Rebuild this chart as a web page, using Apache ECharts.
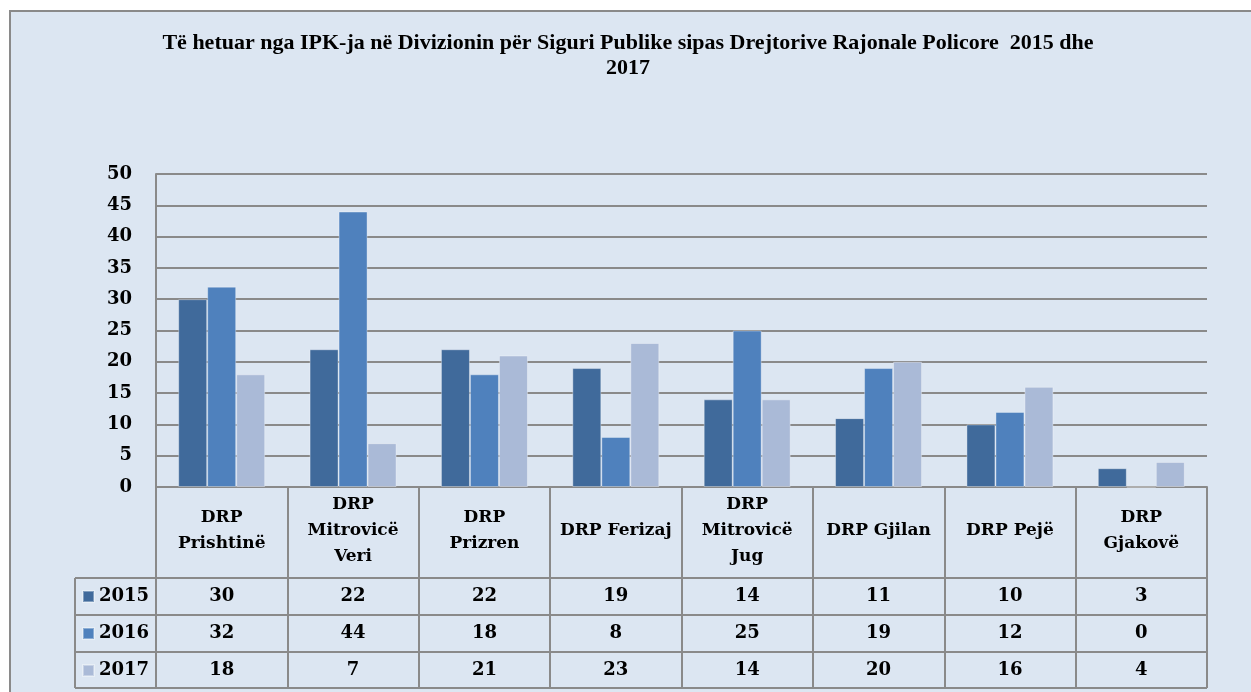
<!DOCTYPE html>
<html>
<head>
<meta charset="utf-8">
<script src="https://cdn.jsdelivr.net/npm/echarts@6/dist/echarts.min.js"></script>
<style>
  html, body { margin: 0; padding: 0; background: #fff; }
  #chart { width: 1251px; height: 692px; }
</style>
</head>
<body>
<div id="chart"></div>
<script>
// categories (header row of the table)
const categories = [
  'DRP\nPrishtinë', 'DRP\nMitrovicë\nVeri', 'DRP\nPrizren', 'DRP Ferizaj',
  'DRP\nMitrovicë\nJug', 'DRP Gjilan', 'DRP Pejë', 'DRP\nGjakovë'
];
const seriesNames = ['2015', '2016', '2017'];
const values2015 = [30, 22, 22, 19, 14, 11, 10, 3];
const values2016 = [32, 44, 18, 8, 25, 19, 12, 0];
const values2017 = [18, 7, 21, 23, 14, 20, 16, 4];
const yTicks = { min: 0, max: 50, interval: 5 };
const titleText = 'Të hetuar nga IPK-ja në Divizionin për Siguri Publike sipas Drejtorive Rajonale Policore  2015 dhe\n2017';

const colors = ['#406A9B', '#4F81BD', '#AABAD7'];
const allValues = [values2015, values2016, values2017];
const FONT = 'DejaVu Serif';
const TITLE_FONT = 'Liberation Serif';
const LINE = '#8a8a8a';

const chart = echarts.init(document.getElementById('chart'));

// table frame (positions only, no data)
const tableX0 = 75, tableX1 = 1207;
const rowY = [578, 615, 652, 688];
const frameLines = rowY.map(y => ({
  type: 'line',
  shape: { x1: tableX0, y1: y, x2: tableX1, y2: y },
  style: { stroke: LINE, lineWidth: 2 },
  z: 10
}));
frameLines.push({
  type: 'line',
  shape: { x1: tableX0, y1: rowY[0], x2: tableX0, y2: rowY[3] },
  style: { stroke: LINE, lineWidth: 2 },
  z: 10
});

const seriesData = seriesNames.map((name, i) => ({
  name: name,
  type: 'bar',
  barWidth: 29,
  barGap: '0%',
  itemStyle: {
    color: colors[i],
    borderColor: 'rgba(255,255,255,0.35)',
    borderWidth: 1
  },
  data: allValues[i]
}));

chart.setOption({
  animation: false,
  backgroundColor: '#fff',
  title: {
    text: titleText,
    left: 623,
    top: 26,
    textAlign: 'center',
    textStyle: {
      fontFamily: TITLE_FONT,
      fontWeight: 'bold',
      fontSize: 22,
      lineHeight: 25,
      color: '#000'
    }
  },
  legend: {
    orient: 'vertical',
    left: 82,
    top: 578,
    padding: 0,
    itemGap: 0,
    itemWidth: 11,
    itemHeight: 11,
    icon: 'rect',
    selectedMode: false,
    textStyle: {
      fontFamily: FONT,
      fontWeight: 'bold',
      fontSize: 18,
      lineHeight: 37,
      color: '#000'
    },
    data: seriesNames
  },
  graphic: [
    {
      type: 'rect',
      shape: { x: 10, y: 11, width: 1300, height: 720 },
      style: { fill: '#DCE6F2', stroke: LINE, lineWidth: 2 },
      z: -10
    }
  ].concat(frameLines),
  grid: {
    left: 156,
    right: 44,
    top: 174,
    bottom: 205
  },
  xAxis: [
    {
      type: 'category',
      data: categories,
      axisLine: { show: true, lineStyle: { color: LINE, width: 2 } },
      axisTick: { show: true, length: 201, lineStyle: { color: LINE, width: 2 } },
      axisLabel: {
        interval: 0,
        margin: 44,
        verticalAlign: 'middle',
        fontFamily: FONT,
        fontWeight: 'bold',
        fontSize: 17,
        lineHeight: 26,
        color: '#000'
      }
    },
    {
      // values of the data table, one line per series
      type: 'category',
      position: 'bottom',
      data: categories,
      axisLine: { show: false },
      axisTick: { show: false },
      axisLabel: {
        interval: 0,
        margin: 91,
        verticalAlign: 'top',
        fontFamily: FONT,
        fontWeight: 'bold',
        fontSize: 18,
        lineHeight: 37,
        color: '#000',
        formatter: (v, idx) => allValues.map(arr => arr[idx]).join('\n')
      }
    }
  ],
  yAxis: {
    type: 'value',
    min: yTicks.min,
    max: yTicks.max,
    interval: yTicks.interval,
    axisLine: { show: true, lineStyle: { color: LINE, width: 2 } },
    axisTick: { show: false },
    splitLine: { show: true, lineStyle: { color: LINE, width: 2 } },
    axisLabel: {
      margin: 24,
      fontFamily: FONT,
      fontWeight: 'bold',
      fontSize: 18,
      color: '#000'
    }
  },
  series: seriesData
});
</script>
</body>
</html>
